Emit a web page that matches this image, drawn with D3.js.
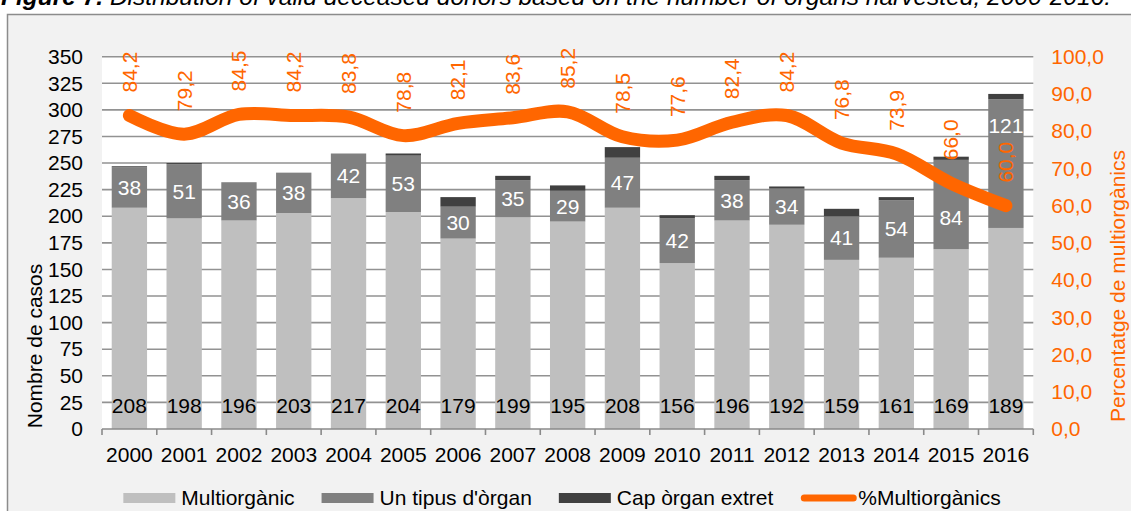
<!DOCTYPE html>
<html>
<head>
<meta charset="utf-8">
<script src="https://cdn.jsdelivr.net/npm/d3@7"></script>
<style>
  body { margin: 0; background: #ffffff; }
  svg { display: block; font-family: "Liberation Sans", Arial, sans-serif; }
</style>
</head>
<body>
<svg id="chart" width="1131" height="511"></svg>
<script>
// Valid deceased donors by number of organs harvested, 2000-2016
const years = ["2000","2001","2002","2003","2004","2005","2006","2007","2008",
               "2009","2010","2011","2012","2013","2014","2015","2016"];
const multiorganic = [208,198,196,203,217,204,179,199,195,208,156,196,192,159,161,169,189];
const oneOrgan     = [38,51,36,38,42,53,30,35,29,47,42,38,34,41,54,84,121];
const noOrgan      = [1,1,0,0,0,2,9,4,5,10,3,4,2,7,3,3,5];
const pctMulti     = [84.2,79.2,84.5,84.2,83.8,78.8,82.1,83.6,85.2,78.5,77.6,82.4,84.2,76.8,73.9,66.0,60.0];
const leftTicks  = [0,25,50,75,100,125,150,175,200,225,250,275,300,325,350];
const rightTicks = [0,10,20,30,40,50,60,70,80,90,100];
const seriesNames = ["Multiorgànic", "Un tipus d'òrgan", "Cap òrgan extret", "%Multiorgànics"];

const colors = { multi: "#bfbfbf", one: "#808080", none: "#404040", pct: "#ff6600" };
const grid = "#929292";
const fontSize = 21;

const locale = d3.formatLocale({ decimal: ",", thousands: ".", grouping: [3], currency: ["", "€"] });
const fmt1 = locale.format(".1f");

const svg = d3.select("#chart");

// outer panel
svg.append("rect")
  .attr("x", 7.5).attr("y", 14.5)
  .attr("width", 1140).attr("height", 520)
  .attr("fill", "#f2f2f2").attr("stroke", "#8c8c8c").attr("stroke-width", 1.5);

// figure caption (sits above the panel)
const cap = svg.append("text")
  .attr("x", 1).attr("y", 5)
  .attr("font-size", 24.5).attr("font-style", "italic").attr("fill", "#000");
cap.append("tspan").attr("font-weight", "bold").text("Figure 7. ");
cap.append("tspan").text("Distribution of valid deceased donors based on the number of organs harvested, 2000-2016.");

const plot = { left: 102, right: 1033.3, top: 56.7, bottom: 429 };

const x = d3.scaleBand().domain(years)
  .range([plot.left, plot.right])
  .paddingInner(0.355).paddingOuter(0.1775);
const y = d3.scaleLinear().domain([0, 350]).range([plot.bottom, plot.top]);
const y2 = d3.scaleLinear().domain([0, 100]).range([plot.bottom, plot.top]);

// plot area
svg.append("rect")
  .attr("x", plot.left).attr("y", plot.top)
  .attr("width", plot.right - plot.left).attr("height", plot.bottom - plot.top)
  .attr("fill", "#ffffff");

// horizontal gridlines
svg.append("g").selectAll("line").data(leftTicks.filter(d => d > 0)).join("line")
  .attr("x1", plot.left).attr("x2", plot.right)
  .attr("y1", d => y(d)).attr("y2", d => y(d))
  .attr("stroke", grid).attr("stroke-width", 1.6);

// stacked bars
const table = years.map((yr, i) => ({ year: yr, multi: multiorganic[i], one: oneOrgan[i], none: noOrgan[i] }));
const stack = d3.stack().keys(["multi", "one", "none"])(table);

const barG = svg.append("g");
stack.forEach(layer => {
  barG.append("g").attr("fill", colors[layer.key])
    .selectAll("rect").data(layer).join("rect")
    .attr("x", d => x(d.data.year))
    .attr("width", x.bandwidth())
    .attr("y", d => y(d[1]))
    .attr("height", d => y(d[0]) - y(d[1]));
});

// x axis
const xAxis = d3.axisBottom(x).tickSize(0).tickFormat(d => d);
const xg = svg.append("g").attr("transform", `translate(0,${plot.bottom})`).call(xAxis);
xg.select(".domain").remove();
xg.selectAll("text").attr("font-size", fontSize).attr("fill", "#000")
  .attr("font-family", null).attr("dy", null).attr("y", 25).attr("dominant-baseline", "central");
svg.append("line")
  .attr("x1", plot.left).attr("x2", plot.right)
  .attr("y1", plot.bottom).attr("y2", plot.bottom)
  .attr("stroke", "#8a8a8a").attr("stroke-width", 1.6);
// tick marks at category boundaries
const bounds = years.map(yr => x(yr) - x.step() * x.paddingInner() / 2).concat([plot.right]);
svg.append("g").selectAll("line").data(bounds).join("line")
  .attr("x1", d => d).attr("x2", d => d)
  .attr("y1", plot.bottom).attr("y2", plot.bottom + 6)
  .attr("stroke", "#8a8a8a").attr("stroke-width", 1.6);

// left axis
const yAxis = d3.axisLeft(y).tickValues(leftTicks).tickSize(0).tickPadding(19);
const yg = svg.append("g").attr("transform", `translate(${plot.left},0)`).call(yAxis);
yg.select(".domain").remove();
yg.selectAll("text").attr("font-size", fontSize).attr("fill", "#000").attr("font-family", null);

// right axis
const y2Axis = d3.axisRight(y2).tickValues(rightTicks).tickSize(0).tickPadding(18).tickFormat(fmt1);
const y2g = svg.append("g").attr("transform", `translate(${plot.right},0)`).call(y2Axis);
y2g.select(".domain").remove();
y2g.selectAll("text").attr("font-size", fontSize).attr("fill", colors.pct).attr("font-family", null);

// axis titles
svg.append("text")
  .attr("transform", "translate(42,346) rotate(-90)")
  .attr("text-anchor", "middle").attr("font-size", fontSize).attr("fill", "#000")
  .text("Nombre de casos");
svg.append("text")
  .attr("transform", "translate(1125,286) rotate(-90)")
  .attr("text-anchor", "middle").attr("font-size", fontSize).attr("fill", colors.pct)
  .text("Percentatge de multiorgànics");

// value labels: multiorgan counts at bar base
svg.append("g").selectAll("text").data(stack[0]).join("text")
  .attr("x", d => x(d.data.year) + x.bandwidth() / 2)
  .attr("y", plot.bottom - 23)
  .attr("dy", "0.35em")
  .attr("text-anchor", "middle").attr("font-size", fontSize).attr("fill", "#000")
  .text(d => d.data.multi);

// value labels: single-organ counts inside their segment (two nudged clear of the line)
const labelNudge = { "2015": 13.5, "2016": -38 };
svg.append("g").selectAll("text").data(stack[1]).join("text")
  .attr("x", d => x(d.data.year) + x.bandwidth() / 2)
  .attr("y", d => (y(d[0]) + y(d[1])) / 2 + (labelNudge[d.data.year] || 0))
  .attr("dy", "0.35em")
  .attr("text-anchor", "middle").attr("font-size", fontSize).attr("fill", "#ffffff")
  .text(d => d.data.one);

// percentage line
const pts = years.map((yr, i) => [x(yr) + x.bandwidth() / 2, y2(pctMulti[i])]);
svg.append("path")
  .attr("d", d3.line().curve(d3.curveCatmullRom.alpha(0.5))(pts))
  .attr("fill", "none").attr("stroke", colors.pct)
  .attr("stroke-width", 13).attr("stroke-linecap", "round").attr("stroke-linejoin", "round");

// percentage labels, vertical, above each point
svg.append("g").selectAll("text").data(years).join("text")
  .attr("transform", (yr, i) => `translate(${x(yr) + x.bandwidth() / 2},${y2(pctMulti[i]) - 23}) rotate(-90)`)
  .attr("dy", "0.35em")
  .attr("text-anchor", "start").attr("font-size", fontSize).attr("fill", colors.pct)
  .text((yr, i) => fmt1(pctMulti[i]));

// legend
const legend = svg.append("g");
const legendItems = [
  { name: seriesNames[0], color: colors.multi, type: "box" },
  { name: seriesNames[1], color: colors.one, type: "box" },
  { name: seriesNames[2], color: colors.none, type: "box" },
  { name: seriesNames[3], color: colors.pct, type: "line" }
];
let lx = 0;
const legendY = 498;
legendItems.forEach((it, i) => {
  const g = legend.append("g").attr("transform", `translate(${lx},0)`);
  if (it.type === "box") {
    g.append("rect").attr("x", 0).attr("y", legendY - 5).attr("width", 52).attr("height", 10).attr("fill", it.color);
  } else {
    g.append("line").attr("x1", 4).attr("x2", 53).attr("y1", legendY).attr("y2", legendY)
      .attr("stroke", it.color).attr("stroke-width", 7).attr("stroke-linecap", "round");
  }
  const t = g.append("text").attr("x", it.type === "box" ? 58 : 58).attr("y", legendY).attr("dy", "0.35em")
    .attr("font-size", fontSize).attr("fill", "#000").text(it.name);
  lx += 58 + t.node().getComputedTextLength() + 27;
});
const legendWidth = lx - 27;
legend.attr("transform", `translate(${562 - legendWidth / 2},0)`);
</script>
</body>
</html>
